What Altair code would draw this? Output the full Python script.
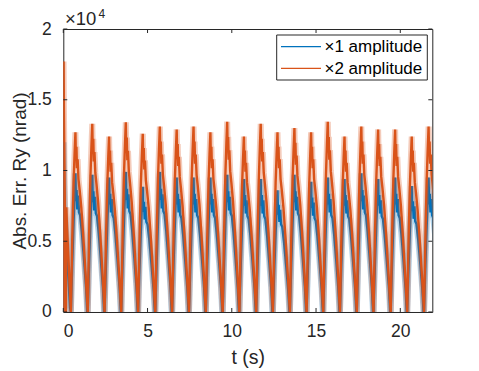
import altair as alt
import pandas as pd

# ---------------- values ----------------
series_names = ["×1 amplitude", "×2 amplitude"]

# start of each periodic cycle (s): the V-shaped zeros of the signal
cycle_zero_t = [0.45, 1.45, 2.45, 3.44, 4.44, 5.46, 6.46, 7.46, 8.46, 9.46, 10.45,
                11.45, 12.44, 13.45, 14.44, 15.43, 16.42, 17.42, 18.41, 19.43, 20.41, 21.41]

# peak of every cycle (nrad)
orange_peak = [12700, 13300, 12400, 13400, 12600, 13100, 12900, 13100, 12700, 13450, 12400,
               13300, 12700, 13000, 12700, 13450, 12400, 13100, 12900, 12900, 12400, 13100]
blue_peak = [9800, 9700, 9500, 9900, 8850, 9900, 9500, 9500, 9500, 9700, 9400,
             9400, 8600, 9700, 9200, 9500, 9400, 9800, 9400, 9500, 8900, 9500]

# shape of one cycle, read from a typical period (time fraction, fraction of peak)
orange_dt = [0.00, 0.08, 0.16, 0.22, 0.27, 0.30, 0.33, 0.36, 0.40, 0.45, 0.52, 0.62, 0.75, 0.88, 1.00]
orange_fr = [0.00, 0.40, 0.72, 0.88, 1.00, 0.84, 0.92, 0.80, 0.85, 0.74, 0.68, 0.58, 0.40, 0.20, 0.00]
blue_dt = [0.00, 0.08, 0.16, 0.22, 0.27, 0.30, 0.34, 0.38, 0.43, 0.48, 0.55, 0.65, 0.78, 0.90, 0.97]
blue_fr = [0.00, 0.35, 0.65, 0.85, 1.00, 0.80, 0.88, 0.74, 0.84, 0.72, 0.70, 0.58, 0.38, 0.18, 0.00]

# initial transient before the first cycle
orange_start_t = [0.0, 0.015, 0.04, 0.08, 0.12, 0.15, 0.18, 0.22, 0.30, 0.38]
orange_start_v = [0, 17700, 14000, 9000, 4000, 0, 7400, 6000, 4000, 1800]
blue_start_t = [0.0, 0.015, 0.05, 0.10, 0.20, 0.30, 0.40]
blue_start_v = [0, 12000, 9000, 7000, 5000, 2500, 300]

x_ticks = [0, 5, 10, 15, 20]
y_ticks = [0, 5000, 10000, 15000, 20000]

BLUE = "#0072BD"
ORANGE = "#D95319"
INK = "#262626"
FONT = "Liberation Sans"
W, H = 369, 283
X0, Y0 = 63.3, 29.0  # plot origin on the page


def build(start_t, start_v, dts, frs, peaks, name):
    rows = []
    for t, v in zip(start_t, start_v):
        rows.append({"t": t, "v": v})
    for c, (t0, p) in enumerate(zip(cycle_zero_t, peaks)):
        period = cycle_zero_t[c + 1] - t0 if c + 1 < len(cycle_zero_t) else 1.0
        for d, f in zip(dts, frs):
            rows.append({"t": t0 + d * period, "v": f * p})
    df = pd.DataFrame(rows)
    df["i"] = range(len(df))
    df["s"] = name
    return df


blue_df = build(blue_start_t, blue_start_v, blue_dt, blue_fr, blue_peak, series_names[0])
orange_df = build(orange_start_t, orange_start_v, orange_dt, orange_fr, orange_peak, series_names[1])

xenc = alt.X(
    "t:Q",
    scale=alt.Scale(domain=[0, 21.9], nice=False, zero=False),
    axis=alt.Axis(values=x_ticks, ticks=False, domain=False, grid=False,
                  labelFont=FONT, labelFontSize=17.5, labelColor=INK, labelPadding=11,
                  title="t (s)", titleFont=FONT, titleFontSize=19.5, titleFontWeight="normal",
                  titleColor=INK, titleBaseline="alphabetic", titleX=W / 2, titleY=52),
)
yenc = alt.Y(
    "v:Q",
    scale=alt.Scale(domain=[0, 20000], nice=False),
    axis=alt.Axis(values=y_ticks, labelExpr="datum.value / 10000", ticks=False, domain=False,
                  grid=False, labelFont=FONT, labelFontSize=17.5, labelColor=INK, labelPadding=12,
                  title="Abs. Err. Ry (nrad)", titleFont=FONT, titleFontSize=19,
                  titleFontWeight="normal", titleColor=INK, titleBaseline="alphabetic",
                  titleX=-37.5, titleY=H / 2),
)


def series(df, color):
    halo = alt.Chart(df).mark_line(clip=True, color=color, strokeWidth=6, opacity=0.3).encode(
        x=xenc, y=yenc, order="i:Q")
    core = alt.Chart(df).mark_line(clip=True, color=color, strokeWidth=2.4).encode(
        x=xenc, y=yenc, order="i:Q")
    return [halo, core]


xt = pd.DataFrame({"t": x_ticks})
yt = pd.DataFrame({"v": y_ticks})
one = pd.DataFrame({"k": [0]})

ticks = [
    alt.Chart(xt).mark_rule(color=INK).encode(x=xenc, y=alt.value(H), y2=alt.value(H - 4)),
    alt.Chart(xt).mark_rule(color=INK).encode(x=xenc, y=alt.value(0), y2=alt.value(4)),
    alt.Chart(yt).mark_rule(color=INK).encode(y=yenc, x=alt.value(0), x2=alt.value(4)),
    alt.Chart(yt).mark_rule(color=INK).encode(y=yenc, x=alt.value(W), x2=alt.value(W - 4)),
]

# legend (MATLAB style box)
lx0, lx1, ly0, ly1 = 276.7 - X0, 427.3 - X0, 35 - Y0, 80 - Y0
row_y = [46.7 - Y0, 68.3 - Y0]
legend = [
    alt.Chart(one).mark_rect(fill="white", stroke=INK, strokeWidth=1).encode(
        x=alt.value(lx0), x2=alt.value(lx1), y=alt.value(ly0), y2=alt.value(ly1)),
    alt.Chart(one).mark_rule(color=BLUE, strokeWidth=1.3).encode(
        x=alt.value(281 - X0), x2=alt.value(321 - X0), y=alt.value(row_y[0])),
    alt.Chart(one).mark_rule(color=ORANGE, strokeWidth=1.3).encode(
        x=alt.value(281 - X0), x2=alt.value(321 - X0), y=alt.value(row_y[1])),
    alt.Chart(one).mark_text(align="left", baseline="middle", font=FONT, fontSize=17,
                             color="black", text=series_names[0]).encode(
        x=alt.value(324.5 - X0), y=alt.value(row_y[0] + 0.5)),
    alt.Chart(one).mark_text(align="left", baseline="middle", font=FONT, fontSize=17,
                             color="black", text=series_names[1]).encode(
        x=alt.value(324.5 - X0), y=alt.value(row_y[1] + 0.5)),
]

exponent = [
    alt.Chart(one).mark_text(align="left", baseline="alphabetic", font=FONT, fontSize=18.5,
                             color=INK, text="×10").encode(x=alt.value(65 - X0), y=alt.value(24.5 - Y0)),
    alt.Chart(one).mark_text(align="left", baseline="alphabetic", font=FONT, fontSize=12,
                             color=INK, text="4").encode(x=alt.value(98.5 - X0), y=alt.value(17.5 - Y0)),
]

chart = alt.layer(
    *series(blue_df, BLUE), *series(orange_df, ORANGE), *ticks, *legend, *exponent
).properties(
    width=W, height=H,
    autosize=alt.AutoSizeParams(type="none"),
    padding={"left": 55.3, "top": 21, "right": 30, "bottom": 58},
    background="white",
).configure_view(stroke=INK, strokeWidth=1)

chart.save("out.html", embed_options={"renderer": "svg", "actions": False})
